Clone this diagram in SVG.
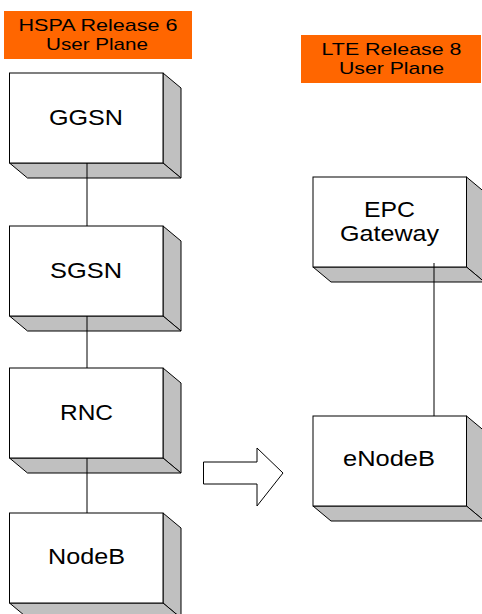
<svg xmlns="http://www.w3.org/2000/svg" width="482" height="614" viewBox="0 0 482 614">
<style>
.lbl{fill:#FF6600}
.hd{font-family:"Liberation Sans",Arial,sans-serif;font-size:17px;fill:#000;text-anchor:middle}
.nt{font-family:"Liberation Sans",Arial,sans-serif;font-size:21.5px;fill:#000;text-anchor:middle}
.front{fill:#fff;stroke:#000;stroke-width:1}
.side{fill:#C0C0C0;stroke:#000;stroke-width:1;stroke-linejoin:round}
.conn{stroke:#000;stroke-width:1;fill:none}
</style>
<defs>
<g id="box">
<polygon class="side" points="153.5,0 171.5,15 171.5,105 153.5,90"/>
<polygon class="side" points="0,90 153.5,90 171.5,105 18,105"/>
<rect class="front" x="0" y="0" width="153.5" height="90"/>
</g>
</defs>
<rect width="482" height="614" fill="#fff"/>
<g id="hspa-label">
<rect class="lbl" x="4" y="11" width="188" height="48"/>
<text class="hd" x="98" y="30.5" textLength="159" lengthAdjust="spacingAndGlyphs">HSPA Release 6</text>
<text class="hd" x="97" y="50" textLength="102" lengthAdjust="spacingAndGlyphs">User Plane</text>
</g>
<g id="lte-label">
<rect class="lbl" x="301" y="35" width="180" height="48"/>
<text class="hd" x="391.5" y="54.5" textLength="140" lengthAdjust="spacingAndGlyphs">LTE Release 8</text>
<text class="hd" x="391.5" y="74" textLength="105" lengthAdjust="spacingAndGlyphs">User Plane</text>
</g>
<g id="ggsn">
<use href="#box" x="9.5" y="73"/>
<text class="nt" x="86" y="124.5" textLength="74" lengthAdjust="spacingAndGlyphs">GGSN</text>
</g>
<g id="sgsn">
<use href="#box" x="9.5" y="226"/>
<text class="nt" x="86" y="277.5" textLength="72" lengthAdjust="spacingAndGlyphs">SGSN</text>
</g>
<g id="rnc">
<use href="#box" x="9.5" y="368"/>
<text class="nt" x="86.5" y="420" textLength="53" lengthAdjust="spacingAndGlyphs">RNC</text>
</g>
<g id="nodeb">
<use href="#box" x="9.5" y="513"/>
<text class="nt" x="86.5" y="564" textLength="77" lengthAdjust="spacingAndGlyphs">NodeB</text>
</g>
<g id="epc-gateway">
<use href="#box" x="313" y="177"/>
<text class="nt" x="389.5" y="216.5" textLength="51" lengthAdjust="spacingAndGlyphs">EPC</text>
<text class="nt" x="389.5" y="240.5" textLength="99" lengthAdjust="spacingAndGlyphs">Gateway</text>
</g>
<g id="enodeb">
<use href="#box" x="313" y="416"/>
<text class="nt" x="389" y="466" textLength="92" lengthAdjust="spacingAndGlyphs">eNodeB</text>
</g>
<g id="connectors">
<line class="conn" x1="87" y1="163" x2="87" y2="226"/>
<line class="conn" x1="87" y1="316" x2="87" y2="368"/>
<line class="conn" x1="87" y1="458" x2="87" y2="513"/>
<line class="conn" x1="434" y1="263" x2="434" y2="416"/>
<polygon class="front" points="203.5,462 257,462 257,448 283,473 257,506 257,484 203.5,484"/>
</g>
</svg>
